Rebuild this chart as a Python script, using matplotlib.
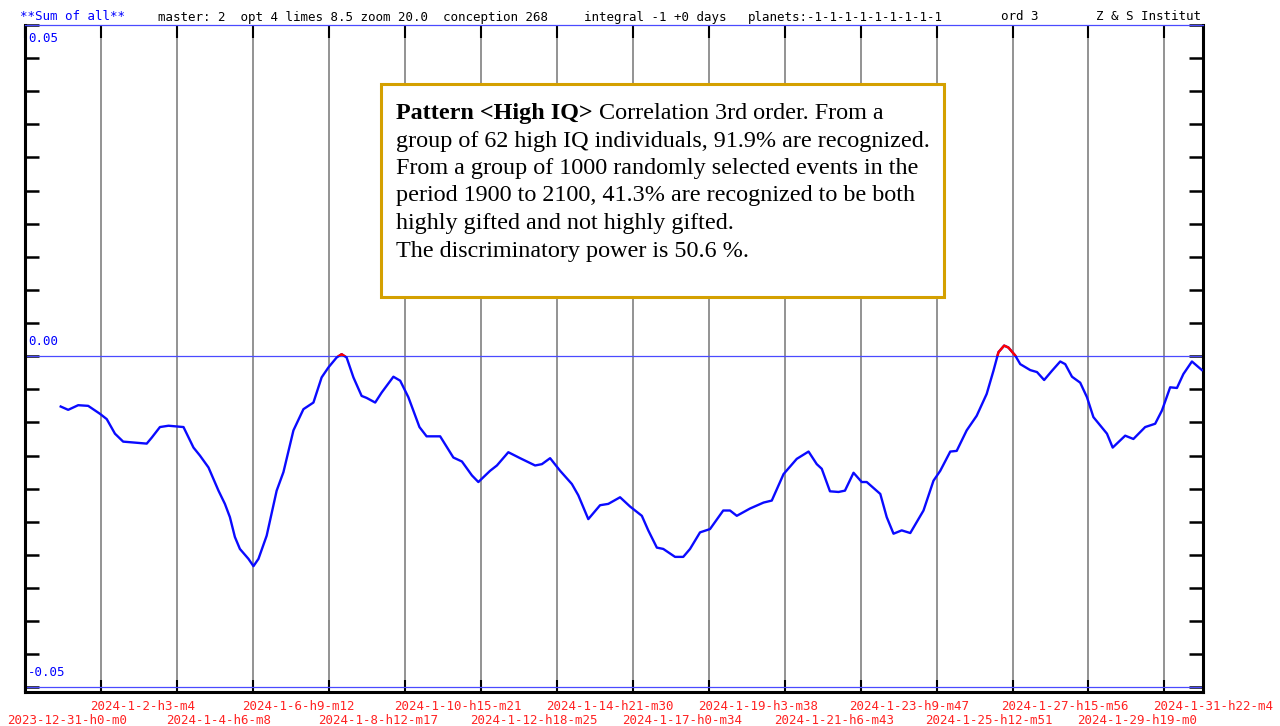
import datetime as dt
import numpy as np
import matplotlib
matplotlib.use('Agg')
import matplotlib.pyplot as plt
from matplotlib.patches import Rectangle

# curve: days since 2023-12-31 h0 m0, value
days = [1.00, 1.21, 1.49, 1.77, 2.10, 2.29, 2.52, 2.75, 3.41, 3.55,
        3.78, 4.02, 4.44, 4.72, 4.90, 5.14, 5.42, 5.60, 5.74, 5.88,
        6.02, 6.26, 6.40, 6.54, 6.77, 7.05, 7.24, 7.52, 7.80, 8.08,
        8.31, 8.50, 8.73, 8.87, 9.01, 9.20, 9.43, 9.57, 9.81, 9.99,
        10.32, 10.51, 10.74, 11.05, 11.25, 11.63, 12.00, 12.24, 12.52, 12.70,
        13.03, 13.22, 13.54, 13.87, 14.29, 14.48, 14.71, 14.99, 15.32, 15.50,
        15.78, 16.11, 16.34, 16.67, 16.95, 17.28, 17.46, 17.70, 17.88, 18.21,
        18.44, 18.63, 18.91, 19.19, 19.56, 19.75, 19.94, 20.31, 20.69, 20.92,
        21.25, 21.62, 21.95, 22.18, 22.32, 22.55, 22.79, 22.97, 23.21, 23.44,
        23.58, 23.96, 24.14, 24.33, 24.56, 24.80, 25.17, 25.45, 25.64, 25.92,
        26.10, 26.38, 26.66, 26.94, 27.13, 27.27, 27.43, 27.55, 27.74, 27.88,
        28.16, 28.35, 28.55, 28.77, 29.00, 29.14, 29.33, 29.56, 29.75, 29.93,
        30.31, 30.47, 30.82, 31.05, 31.38, 31.66, 31.85, 32.08, 32.27, 32.45,
        32.69, 32.97]

values = [-0.0076, -0.0081, -0.0074, -0.0075, -0.0087, -0.0095, -0.0117, -0.0129, -0.0132, -0.0123,
          -0.0107, -0.0105, -0.0107, -0.0138, -0.0150, -0.0168, -0.0203, -0.0223, -0.0243, -0.0273,
          -0.0291, -0.0306, -0.0317, -0.0306, -0.0271, -0.0203, -0.0175, -0.0112, -0.0080, -0.0070,
          -0.0032, -0.0017, -0.0002, 0.0003, -0.0002, -0.0032, -0.0060, -0.0063, -0.0070, -0.0055,
          -0.0031, -0.0037, -0.0062, -0.0107, -0.0121, -0.0121, -0.0153, -0.0159, -0.0180, -0.0190,
          -0.0173, -0.0165, -0.0145, -0.0154, -0.0165, -0.0163, -0.0154, -0.0173, -0.0193, -0.0210,
          -0.0246, -0.0225, -0.0223, -0.0213, -0.0227, -0.0241, -0.0263, -0.0289, -0.0291, -0.0303,
          -0.0303, -0.0291, -0.0266, -0.0261, -0.0233, -0.0233, -0.0241, -0.0230, -0.0221, -0.0218,
          -0.0178, -0.0155, -0.0144, -0.0163, -0.0170, -0.0204, -0.0205, -0.0203, -0.0176, -0.0190,
          -0.0190, -0.0208, -0.0243, -0.0268, -0.0263, -0.0267, -0.0233, -0.0188, -0.0173, -0.0144,
          -0.0143, -0.0112, -0.0090, -0.0057, -0.0022, 0.0006, 0.0016, 0.0013, 0.0001, -0.0012,
          -0.0021, -0.0024, -0.0036, -0.0022, -0.0008, -0.0012, -0.0031, -0.0040, -0.0062, -0.0092,
          -0.0117, -0.0138, -0.0120, -0.0125, -0.0107, -0.0102, -0.0082, -0.0047, -0.0048, -0.0027,
          -0.0008, -0.0021]

tick_labels = ['2023-12-31-h0-m0', '2024-1-2-h3-m4', '2024-1-4-h6-m8', '2024-1-6-h9-m12',
               '2024-1-8-h12-m17', '2024-1-10-h15-m21', '2024-1-12-h18-m25', '2024-1-14-h21-m30',
               '2024-1-17-h0-m34', '2024-1-19-h3-m38', '2024-1-21-h6-m43', '2024-1-23-h9-m47',
               '2024-1-25-h12-m51', '2024-1-27-h15-m56', '2024-1-29-h19-m0', '2024-1-31-h22-m4']

y_marks = [0.05, 0.0, -0.05]
y_mark_labels = ['0.05', '0.00', '-0.05']

header = [(20, '**Sum of all**', 'blue'),
          (158, 'master: 2  opt 4 limes 8.5 zoom 20.0  conception 268', 'black'),
          (584, 'integral -1 +0 days', 'black'),
          (748, 'planets:-1-1-1-1-1-1-1-1-1', 'black'),
          (1001, 'ord 3', 'black'),
          (1096, 'Z & S Institut', 'black')]

box_title = 'Pattern <High IQ>'
box_lines = [' Correlation 3rd order. From a',
             'group of 62 high IQ individuals, 91.9% are recognized.',
             'From a group of 1000 randomly selected events in the',
             'period 1900 to 2100, 41.3% are recognized to be both',
             'highly gifted and not highly gifted.',
             'The discriminatory power is 50.6 %.']

start = dt.datetime(2023, 12, 31)


def label_days(s):
    p = s.split('-')
    t = dt.datetime(int(p[0]), int(p[1]), int(p[2]), int(p[3][1:]), int(p[4][1:]))
    return (t - start).total_seconds() / 86400


tick_pos = [label_days(s) for s in tick_labels]
mono = 'DejaVu Sans Mono'
W, H = 1280, 726

fig = plt.figure(figsize=(12.8, 7.26), dpi=100)
ax = fig.add_axes([25 / W, 1 - 692 / H, (1203 - 25) / W, (692 - 25) / H])
ax.set_xlim(0, 33.0)
ax.set_ylim(-0.0507, 0.05)

for x in tick_pos[1:]:
    ax.axvline(x, color='#8a8a8a', lw=1.3, zorder=1)
ax.axhline(0, color='#4a4aff', lw=0.9, zorder=2)
ax.axhline(-0.05, color='#4a4aff', lw=0.9, zorder=2)

ax.plot(days, values, color='#0a0aff', lw=1.7, zorder=3, solid_joinstyle='round')
red, = ax.plot(days, values, color='red', lw=1.7, zorder=4, solid_joinstyle='round')
red.set_clip_path(Rectangle((0, 0), 40, 1, transform=ax.transData))

ax.set_yticks(np.arange(-0.05, 0.0501, 0.005))
ax.tick_params(axis='y', direction='in', left=True, right=True, length=10, width=1.8,
               labelleft=False)
ax.set_xticks(tick_pos)
ax.tick_params(axis='x', direction='in', top=True, bottom=True, length=9, width=1.5,
               labelbottom=False)

# date labels in two staggered rows under the axis
for i, (x, s) in enumerate(zip(tick_pos, tick_labels)):
    dx = -18 if i == 0 else -11
    dy = -8 if i % 2 else -22
    ax.annotate(s, xy=(x, 0), xycoords=('data', 'axes fraction'), xytext=(dx, dy),
                textcoords='offset pixels', ha='left', va='top', fontsize=9,
                fontfamily=mono, color='#ff2222', annotation_clip=False)

for side in ['left', 'right', 'bottom']:
    ax.spines[side].set_linewidth(2.2)
ax.spines['top'].set_color('#4a4aff')
ax.spines['top'].set_linewidth(0.9)

for v, s in zip(y_marks, y_mark_labels):
    off, va = (-7, 'top') if v > 0 else (8, 'bottom')
    ax.annotate(s, xy=(0, v), xycoords=('axes fraction', 'data'), xytext=(3, off),
                textcoords='offset pixels', va=va, ha='left', fontsize=9,
                fontfamily=mono, color='#0000ff')

for x, s, c in header:
    fig.text(x / W, 1 - 17 / H, s, fontsize=9, fontfamily=mono, color=c, va='center', ha='left')

box = Rectangle((381 / W, 1 - 297 / H), (944 - 381) / W, (297 - 84) / H,
                transform=fig.transFigure, facecolor='white', edgecolor='#d4a000',
                lw=2.2, zorder=5)
fig.add_artist(box)

serif = 'Liberation Serif'
fs = 17.4
base0 = 119
step = 27.5
title = fig.text(396 / W, 1 - base0 / H, box_title, fontsize=fs, fontfamily=serif,
                 fontweight='bold', va='baseline', ha='left', zorder=6)
fig.canvas.draw()
bb = title.get_window_extent()
fig.text(bb.x1 / W, 1 - base0 / H, box_lines[0], fontsize=fs, fontfamily=serif,
         va='baseline', ha='left', zorder=6)
for i, s in enumerate(box_lines[1:], start=1):
    fig.text(396 / W, 1 - (base0 + i * step) / H, s, fontsize=fs, fontfamily=serif,
             va='baseline', ha='left', zorder=6)

fig.savefig('out.png', dpi=100)
